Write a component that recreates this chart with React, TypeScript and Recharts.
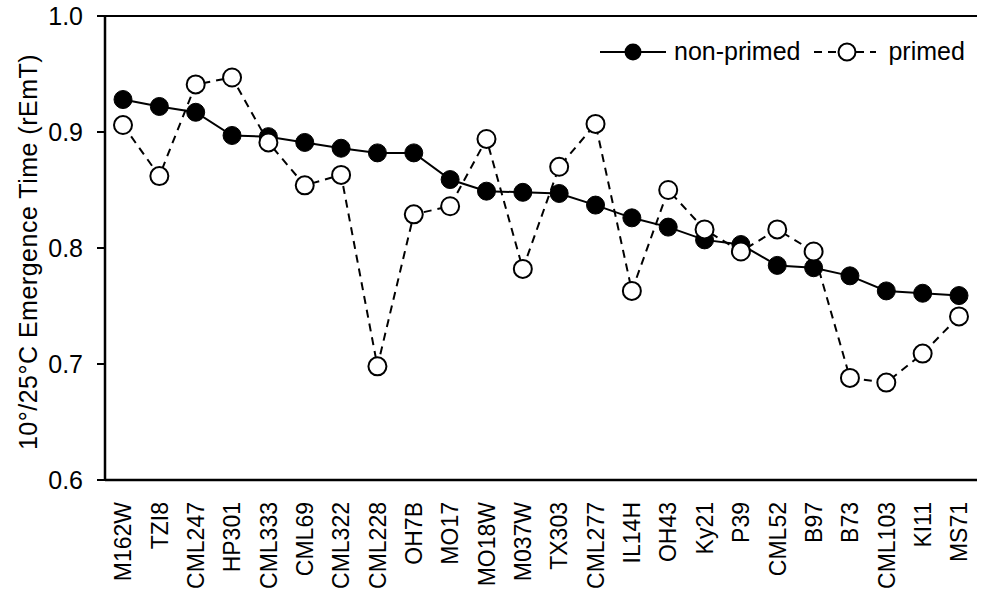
import { Legend, Line, LineChart, ReferenceLine, XAxis, YAxis } from 'recharts';

const LINES = [
  'M162W', 'TZI8', 'CML247', 'HP301', 'CML333', 'CML69', 'CML322', 'CML228',
  'OH7B', 'MO17', 'MO18W', 'M037W', 'TX303', 'CML277', 'IL14H', 'OH43',
  'Ky21', 'P39', 'CML52', 'B97', 'B73', 'CML103', 'KI11', 'MS71'
];

const NON_PRIMED = [
  0.928, 0.922, 0.917, 0.897, 0.896, 0.891, 0.886, 0.882,
  0.882, 0.859, 0.849, 0.848, 0.847, 0.837, 0.826, 0.818,
  0.807, 0.803, 0.785, 0.783, 0.776, 0.763, 0.761, 0.759
];

const PRIMED = [
  0.906, 0.862, 0.941, 0.947, 0.891, 0.854, 0.863, 0.698,
  0.829, 0.836, 0.894, 0.782, 0.870, 0.907, 0.763, 0.850,
  0.816, 0.797, 0.816, 0.797, 0.688, 0.684, 0.709, 0.741
];

const Y_TICKS = [0.6, 0.7, 0.8, 0.9, 1.0];
const FRAME_TICKS = LINES.map((_, i) => i).concat(LINES.length);

const FONT = '"Liberation Sans", Arial, sans-serif';
const FONT_SIZE = 25;

const data = LINES.map((name, i) => ({
  name,
  nonPrimed: NON_PRIMED[i],
  primed: PRIMED[i],
}));

function CategoryTick(props: any) {
  const { x, y, payload } = props;
  const ty = y + 13;
  return (
    <text
      x={x}
      y={ty}
      transform={`rotate(-90, ${x}, ${ty})`}
      textAnchor="end"
      dy="0.36em"
      fontFamily={FONT}
      fontSize={23}
      fill="#000"
    >
      {payload.value}
    </text>
  );
}

function LegendContent() {
  return (
    <div style={{ display: 'flex', alignItems: 'center', fontFamily: FONT, fontSize: FONT_SIZE, color: '#000' }}>
      <svg width={66} height={22}>
        <line x1={0} y1={11} x2={66} y2={11} stroke="#000" strokeWidth={2} />
        <circle cx={33} cy={11} r={8.5} fill="#000" />
      </svg>
      <span style={{ marginLeft: 8, marginRight: 14 }}>non-primed</span>
      <svg width={62} height={22}>
        <line x1={0} y1={11} x2={62} y2={11} stroke="#000" strokeWidth={2} strokeDasharray="8 6" />
        <circle cx={33} cy={11} r={8.5} fill="#fff" stroke="#000" strokeWidth={2} />
      </svg>
      <span style={{ marginLeft: 12 }}>primed</span>
    </div>
  );
}

export default function App() {
  return (
    <div style={{ position: 'absolute', left: 0, top: 0, background: '#fff' }}>
      <LineChart width={984} height={592} data={data} margin={{ top: 16, right: 7, bottom: 0, left: 0 }}>
        <XAxis
          xAxisId="axis0"
          type="number"
          domain={[0, LINES.length]}
          ticks={FRAME_TICKS}
          allowDataOverflow
          tick={false}
          tickSize={7}
          height={1}
          axisLine={{ stroke: '#000', strokeWidth: 2.5 }}
          tickLine={{ stroke: '#000', strokeWidth: 2 }}
        />
        <XAxis
          xAxisId="axis1"
          dataKey="name"
          type="category"
          interval={0}
          padding={{ left: 18, right: 18 }}
          axisLine={false}
          tickLine={false}
          height={111}
          tick={<CategoryTick />}
        />
        <YAxis
          yAxisId="l"
          domain={[0.6, 1.0]}
          ticks={Y_TICKS}
          width={105}
          tickSize={8}
          tickMargin={14}
          tickFormatter={(v: number) => v.toFixed(1)}
          tick={{ fill: '#000', fontFamily: FONT, fontSize: FONT_SIZE }}
          axisLine={{ stroke: '#000', strokeWidth: 2.5 }}
          tickLine={{ stroke: '#000', strokeWidth: 2 }}
          label={{
            content: () => (
              <text
                x={28}
                y={252}
                transform="rotate(-90, 28, 252)"
                textAnchor="middle"
                dy="0.35em"
                fontFamily={FONT}
                fontSize={FONT_SIZE}
                letterSpacing={0.5}
                fill="#000"
              >
                10°/25°C Emergence Time (rEmT)
              </text>
            ),
          }}
        />
        <YAxis
          yAxisId="r"
          orientation="right"
          width={0}
          tick={false}
          tickLine={false}
          axisLine={{ stroke: '#000', strokeWidth: 2 }}
        />
        <ReferenceLine yAxisId="l" xAxisId="axis1" y={1.0} stroke="#000" strokeWidth={2} />
        <Legend
          layout="horizontal"
          verticalAlign="middle"
          align="center"
          wrapperStyle={{ top: 37, left: 600, width: 380 }}
          content={<LegendContent />}
        />
        <Line
          xAxisId="axis1"
          yAxisId="l"
          dataKey="nonPrimed"
          name="non-primed"
          stroke="#000"
          strokeWidth={2}
          dot={{ r: 9, fill: '#000', stroke: '#000', strokeWidth: 1 }}
          isAnimationActive={false}
        />
        <Line
          xAxisId="axis1"
          yAxisId="l"
          dataKey="primed"
          name="primed"
          stroke="#000"
          strokeWidth={2}
          strokeDasharray="8 6"
          dot={{ r: 9, fill: '#fff', stroke: '#000', strokeWidth: 2, strokeDasharray: '0' }}
          isAnimationActive={false}
        />
      </LineChart>
    </div>
  );
}
